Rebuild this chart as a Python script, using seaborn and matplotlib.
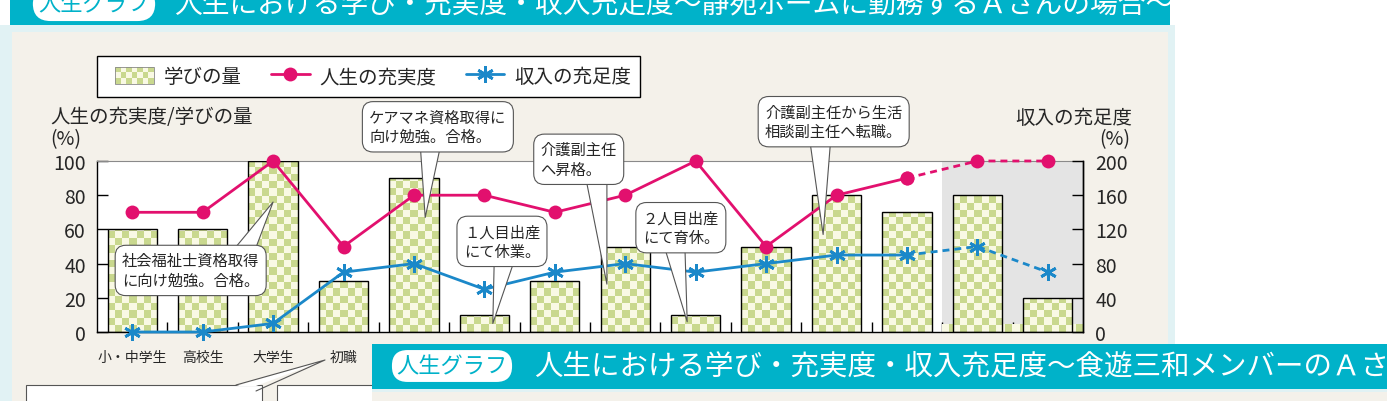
import matplotlib
matplotlib.use("Agg")
import matplotlib.pyplot as plt
import seaborn as sns
import numpy as np
from matplotlib.patches import Rectangle, Polygon
from matplotlib.lines import Line2D
from matplotlib.colors import ListedColormap
from matplotlib.legend_handler import HandlerBase

# --- data ---
stages = ['小・中学生', '高校生', '大学生', '初職', '', '', '', '', '', '', '', '', '', '']
learning = [60, 60, 100, 30, 90, 10, 30, 50, 10, 50, 80, 70, 80, 20]      # 学びの量 (%)
fulfilment = [70, 70, 100, 50, 80, 80, 70, 80, 100, 50, 80, 90, 100, 100]  # 人生の充実度 (%)
income = [0, 0, 10, 70, 80, 50, 70, 80, 70, 80, 90, 90, 100, 70]          # 収入の充足度 (%)
n_actual = 12  # last two stages are a forecast (dashed, shaded)

note_texts = ['社会福祉士資格取得\nに向け勉強。合格。',
              'ケアマネ資格取得に\n向け勉強。合格。',
              '介護副主任\nへ昇格。',
              '１人目出産\nにて休業。',
              '２人目出産\nにて育休。',
              '介護副主任から生活\n相談副主任へ転職。']

title = '人生における学び・充実度・収入充足度〜静苑ホームに勤務するＡさんの場合〜'
title2 = '人生における学び・充実度・収入充足度〜食遊三和メンバーのＡさ'

# --- colours ---
teal = '#00b2c9'
beige = '#f4f1ea'
pale_cyan = '#e1f2f4'
pink = '#e2106e'
blue = '#1b88c9'
chk_green = '#c9d88e'
chk_light = '#f9f9e4'

sns.set_style('ticks')
plt.rcParams['font.family'] = ['Noto Sans CJK JP', 'DejaVu Sans']

W, H = 1387, 402
fig = plt.figure(figsize=(W / 100, H / 100), dpi=100)
fig.patch.set_facecolor('white')
inch = fig.dpi_scale_trans


def px_rect(x0, y0, x1, y1, **kw):
    return Rectangle((x0 / 100, (H - y1) / 100), (x1 - x0) / 100, (y1 - y0) / 100,
                     transform=inch, **kw)


def px_pt(x, y):
    return (x / 100, (H - y) / 100)


# page background pieces
fig.add_artist(px_rect(0, 26, 1175, 402, fc=pale_cyan, ec='none', zorder=-10))
fig.add_artist(px_rect(12, 33, 1168, 402, fc=beige, ec='none', zorder=-9))
fig.add_artist(px_rect(10, 0, 1170, 26, fc=teal, ec='none', zorder=-8))
fig.text(94 / W, 1 - 5 / H, '人生グラフ', color=teal, fontsize=16, ha='center', va='center',
         bbox=dict(boxstyle='round,pad=0.25,rounding_size=0.8', fc='white', ec='none'))
fig.text(174 / W, 1 - 6 / H, title, color='white', fontsize=20, ha='left', va='center')

# axes
ax = fig.add_axes([97 / W, 1 - 333 / H, (1083 - 97) / W, (333 - 162) / H])
ax.set_facecolor('white')
ax.axvspan(n_actual - 0.5, len(stages) - 0.5, color='#e4e4e4', zorder=0.5, lw=0)

pos = np.arange(len(stages))
sns.barplot(x=pos, y=learning, ax=ax, width=0.7, facecolor='none', edgecolor='black',
            linewidth=1, zorder=3)

# checkerboard fill inside each bar
cmap = ListedColormap([chk_light, chk_green])
cell_x, cell_y = 0.1, 4.2
for bar in ax.patches:
    x0, w, h = bar.get_x(), bar.get_width(), bar.get_height()
    if h <= 0:
        continue
    nx = int(np.ceil(w / cell_x))
    ny = int(np.ceil(h / cell_y))
    board = np.indices((ny, nx)).sum(axis=0) % 2
    im = ax.imshow(board, cmap=cmap, extent=(x0, x0 + nx * cell_x, 0, ny * cell_y),
                   origin='lower', aspect='auto', interpolation='nearest', zorder=2)
    im.set_clip_path(bar)

line_kw = dict(lw=2, clip_on=False, zorder=4)
pink_kw = dict(color=pink, marker='o', markersize=10, markeredgewidth=0, **line_kw)
blue_kw = dict(color=blue, marker=(6, 2, 0), markersize=12, markeredgewidth=2,
               markeredgecolor=blue, **line_kw)
dash = (0, (2.5, 1.8))

sns.lineplot(x=pos[:n_actual], y=fulfilment[:n_actual], ax=ax, **pink_kw)
sns.lineplot(x=pos[n_actual - 1:], y=fulfilment[n_actual - 1:], ax=ax, linestyle=dash, **pink_kw)

ax.set_xlim(-0.5, len(stages) - 0.5)
ax.set_ylim(0, 100)
ax.set_yticks(range(0, 101, 20))
ax.set_xticks(pos)
ax.set_xticklabels(stages, fontsize=10)
ax.set_xticks(np.arange(0.5, len(stages) - 1, 1), minor=True)
ax.tick_params(axis='x', which='major', length=0, pad=13)
ax.tick_params(axis='x', which='minor', direction='in', length=7, width=1, color='black')
ax.tick_params(axis='y', direction='in', length=8, width=1, labelsize=14, pad=8, color='black')
ax.set_xlabel('')
ax.set_ylabel('')
for s in ['left', 'bottom', 'right']:
    ax.spines[s].set_color('black')
    ax.spines[s].set_linewidth(1)
ax.spines['top'].set_color('#8a8a8a')
ax.spines['top'].set_linewidth(0.8)

ax2 = ax.twinx()
sns.lineplot(x=pos[:n_actual], y=income[:n_actual], ax=ax2, **blue_kw)
sns.lineplot(x=pos[n_actual - 1:], y=income[n_actual - 1:], ax=ax2, linestyle=dash, **blue_kw)
ax2.set_ylim(0, 200)
ax2.set_yticks(range(0, 201, 40))
ax2.tick_params(axis='y', direction='in', length=8, width=1, labelsize=14, pad=9, color='black')
ax2.set_ylabel('')
for s in ['left', 'bottom', 'top']:
    ax2.spines[s].set_visible(False)
ax2.spines['right'].set_color('black')
ax2.spines['right'].set_linewidth(1)
ax.set_xlim(-0.5, len(stages) - 0.5)

# speech bubbles (tip at a point on the chart, box centre)
note_tips = [(2.0, 76), (4.16, 67), (6.74, 28), (5.12, 5), (7.88, 6), (9.81, 57)]
note_boxes = [(0.83, 36), (4.34, 120), (6.34, 101), (5.25, 53), (7.79, 61), (9.96, 123)]
note_rel = [(0.85, 0.75), (0.45, 0.25), (0.72, 0.25), (0.55, 0.25), (0.4, 0.25), (0.4, 0.25)]
for txt, tip, box, rel in zip(note_texts, note_tips, note_boxes, note_rel):
    ax2.annotate(txt, xy=tip, xycoords=ax.transData, xytext=box, textcoords=ax.transData,
                 ha='center', va='center', ma='left', fontsize=11, linespacing=1.2,
                 bbox=dict(boxstyle='round,pad=0.45,rounding_size=0.7', fc='white',
                           ec='#555555', lw=0.8),
                 arrowprops=dict(arrowstyle='wedge,tail_width=1.5,shrink_factor=0.5',
                                 fc='white', ec='#555555', lw=0.8, relpos=rel,
                                 patchA=None, shrinkA=0, shrinkB=0),
                 annotation_clip=False, zorder=6)

# axis titles
fig.text(50 / W, 1 - 117 / H, '人生の充実度/学びの量', fontsize=14, ha='left', va='center')
fig.text(50 / W, 1 - 140 / H, '(%)', fontsize=14, ha='left', va='center')
fig.text(1132 / W, 1 - 118 / H, '収入の充足度', fontsize=14, ha='right', va='center')
fig.text(1130 / W, 1 - 140 / H, '(%)', fontsize=14, ha='right', va='center')


# legend with a checkered swatch
class CheckerHandler(HandlerBase):
    def create_artists(self, legend, orig_handle, xdescent, ydescent, width, height,
                       fontsize, trans):
        arts = []
        nx, ny = 7, 3
        cw, ch = width / nx, height / ny
        for i in range(nx):
            for j in range(ny):
                c = chk_green if (i + j) % 2 == 0 else chk_light
                arts.append(Rectangle((-xdescent + i * cw, -ydescent + j * ch), cw, ch,
                                      fc=c, ec='none', transform=trans))
        arts.append(Rectangle((-xdescent, -ydescent), width, height, fc='none',
                              ec='#888888', lw=0.6, transform=trans))
        return arts


fig.add_artist(px_rect(97, 57, 640, 98, fc='white', ec='black', lw=1, zorder=1))
bar_handle = Rectangle((0, 0), 1, 1)
pink_handle = Line2D([], [], color=pink, lw=2, marker='o', markersize=10, markeredgewidth=0)
blue_handle = Line2D([], [], color=blue, lw=2, marker=(6, 2, 0), markersize=12,
                     markeredgewidth=2, markeredgecolor=blue)
leg = fig.legend([bar_handle, pink_handle, blue_handle], ['学びの量', '人生の充実度', '収入の充足度'],
                 handler_map={bar_handle: CheckerHandler()}, loc='center left',
                 bbox_to_anchor=(115 / W, 1 - 77.5 / H), ncol=3, frameon=False,
                 fontsize=14, borderpad=0, borderaxespad=0, columnspacing=1.5,
                 handletextpad=0.5, handlelength=2.0, handleheight=1.0)
leg.set_zorder(2)

# neighbouring page pieces: bubble under 初職 and the next chart's banner
fig.add_artist(px_rect(26, 386, 262, 420, fc='white', ec='#555555', lw=0.8, zorder=1))
fig.add_artist(px_rect(277, 386, 390, 420, fc='white', ec='#555555', lw=0.8, zorder=1))
fig.add_artist(Polygon([px_pt(236, 387), px_pt(325, 361), px_pt(256, 387)], closed=True,
                       transform=inch, fc='white', ec='none', zorder=1.5))
fig.add_artist(Line2D([236 / 100, 325 / 100, 256 / 100],
                      [(H - 386) / 100, (H - 361) / 100, (H - 392) / 100],
                      transform=inch, color='#555555', lw=0.8, zorder=1.6))
fig.add_artist(px_rect(372, 345, 1387, 402, fc=beige, ec='none', zorder=9))
fig.add_artist(px_rect(372, 389, 1387, 393, fc=pale_cyan, ec='none', zorder=9.5))
fig.add_artist(px_rect(372, 345, 1387, 390, fc=teal, ec='none', zorder=10))
fig.text(452 / W, 1 - 367 / H, '人生グラフ', color=teal, fontsize=16, ha='center', va='center',
         zorder=11, bbox=dict(boxstyle='round,pad=0.2,rounding_size=0.7', fc='white', ec='none'))
fig.text(534 / W, 1 - 367 / H, title2, color='white', fontsize=20.5, ha='left', va='center',
         zorder=11)

fig.savefig('out.png', dpi=100, facecolor=fig.get_facecolor())
